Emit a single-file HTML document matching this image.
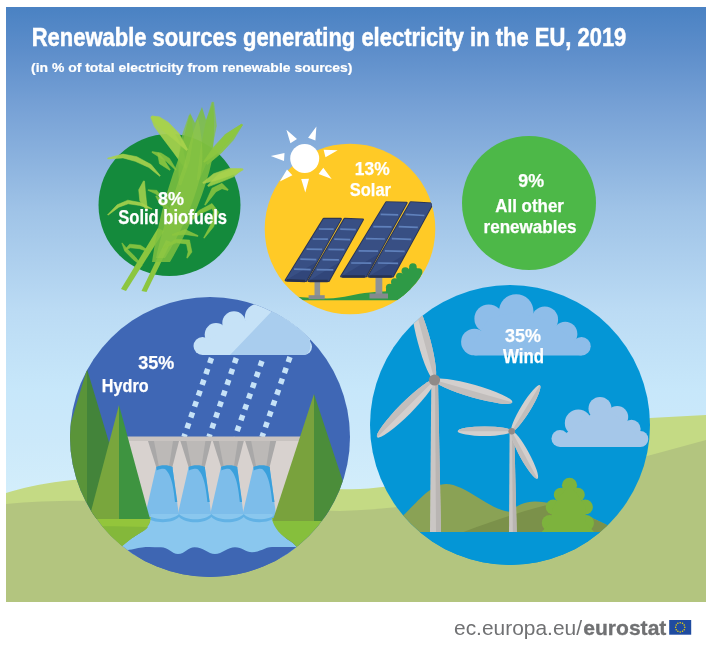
<!DOCTYPE html>
<html><head><meta charset="utf-8">
<style>
html,body{margin:0;padding:0;background:#fff;width:711px;height:645px;overflow:hidden}
svg{display:block;filter:blur(0.35px)}
text{font-family:"Liberation Sans",sans-serif;font-weight:bold;fill:#fff;stroke:#fff;stroke-width:0.25px}
</style></head>
<body>
<svg width="711" height="645" viewBox="0 0 711 645">
<defs>
  <linearGradient id="sky" x1="0" y1="7" x2="0" y2="602" gradientUnits="userSpaceOnUse">
    <stop offset="0" stop-color="#4a82c3"/>
    <stop offset="0.069" stop-color="#5c8dca"/>
    <stop offset="0.173" stop-color="#78a2d6"/>
    <stop offset="0.341" stop-color="#9fc3e7"/>
    <stop offset="0.509" stop-color="#bbdbf4"/>
    <stop offset="0.644" stop-color="#c7e7fa"/>
    <stop offset="0.73" stop-color="#cce9fa"/>
    <stop offset="0.82" stop-color="#d3eefb"/>
    <stop offset="1" stop-color="#d3eefb"/>
  </linearGradient>
  <clipPath id="cBio"><circle cx="169.5" cy="205" r="71"/></clipPath>
  <clipPath id="cSol"><circle cx="350" cy="229" r="85.3"/></clipPath>
  <clipPath id="cHyd"><circle cx="210" cy="437" r="140"/></clipPath>
  <clipPath id="cWin"><circle cx="510" cy="425" r="140"/></clipPath>
</defs>
<rect x="0" y="0" width="711" height="645" fill="#fff"/>
<rect x="6" y="7" width="700" height="595" fill="url(#sky)"/>
<!-- hills -->
<path d="M6,493 C40,482 90,476 140,477 C220,481 300,491 360,489 C450,485 560,430 650,418 L706,415 L706,602 L6,602 Z" fill="#c4da84"/>
<path d="M6,504 C100,494 250,510 340,511 C450,508 560,480 706,440 L706,602 L6,602 Z" fill="#b3c57f"/>

<!-- biofuels -->
<circle cx="169.5" cy="205" r="71" fill="#148a3c"/>
<g>
<path d="M186.9,167.6 L182.5,147.6 L172.2,129.1 L161.7,119.5 L152.2,115.9 L150.8,117.3 L154.3,126.5 L161.8,136.9 L173.5,152.4 L185.1,168.4 Z" fill="#a8d24c" fill-opacity="0.9" stroke="#a8d24c" stroke-opacity="0.9" stroke-width="0.6" stroke-linejoin="round"/>
<path d="M207.6,164.5 L221.4,152.9 L233.3,140.1 L242.1,125.5 L241.1,124.5 L226.7,133.9 L214.6,147.1 L206.4,163.5 Z" fill="#8cc63f" fill-opacity="0.9" stroke="#8cc63f" stroke-opacity="0.9" stroke-width="0.6" stroke-linejoin="round"/>
<path d="M208.4,186.6 L221.9,181.6 L233.5,176.8 L241.8,170.1 L241.4,168.9 L230.5,169.2 L218.1,174.4 L207.6,185.4 Z" fill="#a0cf48" fill-opacity="0.9" stroke="#a0cf48" stroke-opacity="0.9" stroke-width="0.6" stroke-linejoin="round"/>
<path d="M180.9,185.1 L189.4,160.9 L193.4,135.7 L190.9,115.5 L189.1,115.3 L182.6,134.3 L178.6,159.1 L179.1,184.9 Z" fill="#86c240" fill-opacity="0.7" stroke="#86c240" stroke-opacity="0.7" stroke-width="0.6" stroke-linejoin="round"/>
<path d="M198.9,180.2 L211.3,151.2 L216.4,125.8 L213.7,102.3 L211.9,102.1 L205.6,124.2 L200.7,148.8 L197.1,179.8 Z" fill="#86c240" fill-opacity="0.7" stroke="#86c240" stroke-opacity="0.7" stroke-width="0.6" stroke-linejoin="round"/>
<path d="M205.4,205.2 L216.0,191.8 L222.0,188.7 L227.8,190.4 L228.2,189.6 L222.0,183.3 L212.0,188.2 L204.6,204.8 Z" fill="#8cc63f" fill-opacity="0.85" stroke="#8cc63f" stroke-opacity="0.85" stroke-width="0.6" stroke-linejoin="round"/>
<path d="M170.2,209.7 L163.8,201.2 L156.3,195.8 L155.7,196.2 L160.2,204.8 L169.8,210.3 Z" fill="#8cc63f" fill-opacity="0.85" stroke="#8cc63f" stroke-opacity="0.85" stroke-width="0.6" stroke-linejoin="round"/>
<path d="M121,289 L158,228 L164,231 L126,291 Z" fill="#8cc63f"/>
<path d="M141.5,291 L166,240 L171,242 L146.5,292 Z" fill="#8cc63f"/>
<path d="M152,262 C156,235 163,200 178,160 C183,140 187,125 190,113 L195,123 L202,107 L206,120 L213,102 C215,120 214,140 212,160 C206,190 190,228 170,262 Z" fill="#7fbf40" fill-opacity="0.85"/>
<path d="M156,258 C161,235 170,205 184,165 C188,148 193,132 198,118 C203,140 204,160 200,178 C193,205 180,235 165,258 Z" fill="#98cc48" fill-opacity="0.45"/>
<path d="M187.6,149.5 L178.9,133.3 L168.2,122.2 L159.2,116.8 L152.0,116.1 L151.2,117.3 L154.8,123.2 L161.8,129.8 L173.1,138.7 L186.4,150.5 Z" fill="#a8d24c" fill-opacity="0.95" stroke="#a8d24c" stroke-opacity="0.95" stroke-width="0.6" stroke-linejoin="round"/>
<path d="M160.3,175.7 L151.1,164.5 L136.8,156.7 L123.0,154.1 L107.7,158.1 L107.9,158.9 L123.0,157.9 L135.2,161.3 L148.9,167.5 L159.7,176.3 Z" fill="#a8d24c" fill-opacity="0.9" stroke="#a8d24c" stroke-opacity="0.9" stroke-width="0.6" stroke-linejoin="round"/>
<path d="M170.3,169.7 L164.5,160.3 L158.4,152.8 L157.6,153.2 L159.5,163.7 L169.7,170.3 Z" fill="#8cc63f" fill-opacity="0.9" stroke="#8cc63f" stroke-opacity="0.9" stroke-width="0.6" stroke-linejoin="round"/>
<path d="M147.5,209.8 L146.2,199.2 L145.3,190.2 L144.5,181.1 L143.5,180.9 L138.7,189.8 L139.8,200.8 L146.5,210.2 Z" fill="#a8d24c" fill-opacity="0.85" stroke="#a8d24c" stroke-opacity="0.85" stroke-width="0.6" stroke-linejoin="round"/>
<path d="M152.1,208.8 L140.4,202.6 L127.8,200.2 L117.2,204.8 L107.6,214.8 L108.0,215.2 L118.8,207.2 L128.2,203.8 L139.6,205.4 L151.9,209.2 Z" fill="#a8d24c" fill-opacity="0.9" stroke="#a8d24c" stroke-opacity="0.9" stroke-width="0.6" stroke-linejoin="round"/>
<path d="M204.4,162.4 L218.7,152.6 L230.6,139.7 L242.7,125.0 L241.9,124.0 L225.4,134.3 L213.3,147.4 L203.6,161.6 Z" fill="#8cc63f" fill-opacity="0.9" stroke="#8cc63f" stroke-opacity="0.9" stroke-width="0.6" stroke-linejoin="round"/>
<path d="M203.3,183.5 L216.4,180.3 L230.9,175.5 L243.1,170.0 L242.9,168.8 L229.1,168.5 L213.6,173.7 L202.7,182.5 Z" fill="#a8d24c" fill-opacity="0.9" stroke="#a8d24c" stroke-opacity="0.9" stroke-width="0.6" stroke-linejoin="round"/>
<path d="M186.3,224.3 L201.0,213.5 L212.0,208.5 L213.5,212.0 L210.4,225.2 L203.7,237.8 L204.3,238.2 L213.6,226.8 L218.5,212.0 L212.0,203.5 L199.0,210.5 L185.7,223.7 Z" fill="#8cc63f" fill-opacity="0.9" stroke="#8cc63f" stroke-opacity="0.9" stroke-width="0.6" stroke-linejoin="round"/>
<path d="M163.2,248.3 L176.4,242.8 L186.5,243.9 L188.1,251.9 L186.7,257.8 L187.3,258.2 L191.9,252.1 L189.5,240.1 L175.6,239.2 L162.8,247.7 Z" fill="#8cc63f" fill-opacity="0.9" stroke="#8cc63f" stroke-opacity="0.9" stroke-width="0.6" stroke-linejoin="round"/>
<path d="M150.1,251.7 L140.5,245.3 L129.6,244.2 L124.8,249.8 L125.2,250.2 L130.4,247.8 L139.5,248.7 L149.9,252.3 Z" fill="#8cc63f" fill-opacity="0.9" stroke="#8cc63f" stroke-opacity="0.9" stroke-width="0.6" stroke-linejoin="round"/>
<path d="M142.2,265.8 L135.2,256.8 L127.3,249.0 L122.2,242.9 L121.8,243.1 L124.7,251.0 L132.8,259.2 L141.8,266.2 Z" fill="#8cc63f" fill-opacity="0.85" stroke="#8cc63f" stroke-opacity="0.85" stroke-width="0.6" stroke-linejoin="round"/>
<path d="M172.1,235.4 L184.9,234.5 L197.9,236.4 L198.1,235.6 L185.1,229.5 L171.9,234.6 Z" fill="#8cc63f" fill-opacity="0.85" stroke="#8cc63f" stroke-opacity="0.85" stroke-width="0.6" stroke-linejoin="round"/>
<path d="M176.3,169.8 L169.5,158.4 L161.0,153.0 L152.1,151.6 L151.9,152.4 L159.0,157.0 L166.5,161.6 L175.7,170.2 Z" fill="#8cc63f" fill-opacity="0.85" stroke="#8cc63f" stroke-opacity="0.85" stroke-width="0.6" stroke-linejoin="round"/>
<path d="M162.2,197.8 L156.9,190.4 L148.1,189.7 L147.9,190.3 L155.1,193.6 L161.8,198.2 Z" fill="#8cc63f" fill-opacity="0.85" stroke="#8cc63f" stroke-opacity="0.85" stroke-width="0.6" stroke-linejoin="round"/>
</g>
<text x="171" y="205.3" font-size="19" text-anchor="middle" textLength="26" lengthAdjust="spacingAndGlyphs">8%</text>
<text x="172.6" y="223.9" font-size="19.5" text-anchor="middle" textLength="108.8" lengthAdjust="spacingAndGlyphs">Solid biofuels</text>

<!-- solar -->
<circle cx="350" cy="229" r="85.3" fill="#ffca26"/>
<g fill="#fff">
  <circle cx="304.7" cy="158.4" r="14.5"/>
  <path d="M286.4,129.7 L297.0,139.0 L290.4,143.2 Z M316.4,126.5 L315.4,140.5 L308.1,137.8 Z M337.7,150.2 L325.5,157.2 L323.6,149.7 Z M331.7,179.1 L318.6,174.0 L323.3,167.8 Z M305.3,192.4 L301.2,179.0 L309.0,178.8 Z M279.8,181.6 L287.0,169.5 L292.4,175.2 Z M270.8,156.0 L284.5,153.1 L284.0,160.9 Z"/>
</g>
<g clip-path="url(#cSol)">
  <!-- ground -->
  <path d="M260,293.5 C280,294 300,298.5 327,298.5 C345,298 355,293.5 370,292.5 C385,291.5 400,290 440,288 L440,300.2 L260,300.2 Z" fill="#2f9a45"/>
  <!-- bush -->
  <g fill="#2e9a46">
    <circle cx="412.9" cy="267" r="3.8"/>
    <circle cx="418.6" cy="272" r="3.8"/>
    <circle cx="405.3" cy="271" r="3.8"/>
    <circle cx="399.8" cy="276.5" r="3.8"/>
    <circle cx="394.8" cy="282" r="3.8"/>
    <circle cx="389.7" cy="287.5" r="3.8"/>
    <path d="M386,289 L412.9,265 L421.8,272 C420,285 407,296 397,300 L386,300 Z"/>
  </g>
  <!-- posts -->
  <rect x="314.5" y="280" width="5.6" height="16" fill="#8e9397"/>
  <rect x="308.6" y="295.2" width="16.1" height="4" fill="#858a8e"/>
  <rect x="375.5" y="276" width="6.8" height="18.5" fill="#8e9397"/>
  <rect x="369.5" y="293.5" width="18.5" height="5" fill="#858a8e"/>
  <path d="M323.7,218.9 L340.8,218.9 L306,280.9 L285.7,280.3 Z" fill="#2f3d62" stroke="#2b3656" stroke-width="2.2" stroke-linejoin="round"/><path d="M323.7,218.9 L340.8,218.9 L306,280.9 L285.7,280.3 Z" fill="#31467a"/><path d="M323.7,218.9 L340.8,218.9 L316.4,262.3 L285.7,280.3 Z" fill="#384f84"/><line x1="318.9" y1="229.0" x2="333.7" y2="229.1" stroke="#5f80bb" stroke-width="1.7"/><line x1="312.7" y1="239.0" x2="327.9" y2="239.2" stroke="#5f80bb" stroke-width="1.7"/><line x1="306.5" y1="249.1" x2="322.2" y2="249.4" stroke="#5f80bb" stroke-width="1.7"/><line x1="300.3" y1="259.2" x2="316.4" y2="259.6" stroke="#5f80bb" stroke-width="1.7"/><line x1="294.1" y1="269.2" x2="310.7" y2="269.7" stroke="#5f80bb" stroke-width="1.7"/><line x1="286.7" y1="280.3" x2="305" y2="280.9" stroke="#263150" stroke-width="2.5"/>
  <path d="M344.6,218.9 L362.9,219.5 L328.7,280.9 L308.5,280.9 Z" fill="#2f3d62" stroke="#2b3656" stroke-width="2.2" stroke-linejoin="round"/><path d="M344.6,218.9 L362.9,219.5 L328.7,280.9 L308.5,280.9 Z" fill="#31467a"/><path d="M344.6,218.9 L362.9,219.5 L339.0,262.5 L308.5,280.9 Z" fill="#384f84"/><line x1="340.2" y1="229.1" x2="355.8" y2="229.6" stroke="#5f80bb" stroke-width="1.7"/><line x1="334.3" y1="239.2" x2="350.2" y2="239.6" stroke="#5f80bb" stroke-width="1.7"/><line x1="328.4" y1="249.4" x2="344.5" y2="249.7" stroke="#5f80bb" stroke-width="1.7"/><line x1="322.5" y1="259.6" x2="338.9" y2="259.8" stroke="#5f80bb" stroke-width="1.7"/><line x1="316.6" y1="269.7" x2="333.3" y2="269.8" stroke="#5f80bb" stroke-width="1.7"/><line x1="309.5" y1="280.9" x2="327.7" y2="280.9" stroke="#263150" stroke-width="2.5"/>
  <path d="M386.3,202.3 L406.6,202.8 L365.9,276.4 L341.2,276.4 Z" fill="#2f3d62" stroke="#2b3656" stroke-width="2.2" stroke-linejoin="round"/><path d="M386.3,202.3 L406.6,202.8 L365.9,276.4 L341.2,276.4 Z" fill="#31467a"/><path d="M386.3,202.3 L406.6,202.8 L378.1,254.3 L341.2,276.4 Z" fill="#384f84"/><line x1="380.6" y1="214.4" x2="398.2" y2="214.9" stroke="#5f80bb" stroke-width="1.7"/><line x1="373.3" y1="226.6" x2="391.5" y2="226.9" stroke="#5f80bb" stroke-width="1.7"/><line x1="365.9" y1="238.7" x2="384.8" y2="239.0" stroke="#5f80bb" stroke-width="1.7"/><line x1="358.6" y1="250.9" x2="378.1" y2="251.1" stroke="#5f80bb" stroke-width="1.7"/><line x1="351.2" y1="263.0" x2="371.3" y2="263.1" stroke="#5f80bb" stroke-width="1.7"/><line x1="342.2" y1="276.4" x2="364.9" y2="276.4" stroke="#263150" stroke-width="2.5"/>
  <path d="M410.7,202.3 L432.7,203.5 L392.8,276.4 L368.4,276.4 Z" fill="#2f3d62" stroke="#2b3656" stroke-width="2.2" stroke-linejoin="round"/><path d="M410.7,202.3 L432.7,203.5 L392.8,276.4 L368.4,276.4 Z" fill="#31467a"/><path d="M410.7,202.3 L432.7,203.5 L404.8,254.5 L368.4,276.4 Z" fill="#384f84"/><line x1="405.6" y1="214.4" x2="424.4" y2="215.5" stroke="#5f80bb" stroke-width="1.7"/><line x1="398.7" y1="226.6" x2="417.8" y2="227.4" stroke="#5f80bb" stroke-width="1.7"/><line x1="391.8" y1="238.7" x2="411.2" y2="239.4" stroke="#5f80bb" stroke-width="1.7"/><line x1="384.8" y1="250.9" x2="404.7" y2="251.3" stroke="#5f80bb" stroke-width="1.7"/><line x1="377.9" y1="263.0" x2="398.1" y2="263.3" stroke="#5f80bb" stroke-width="1.7"/><line x1="369.4" y1="276.4" x2="391.8" y2="276.4" stroke="#263150" stroke-width="2.5"/>
</g>
<text x="372.2" y="175.4" font-size="19" text-anchor="middle" textLength="34.8" lengthAdjust="spacingAndGlyphs">13%</text>
<text x="370.4" y="196" font-size="19" text-anchor="middle" textLength="41.2" lengthAdjust="spacingAndGlyphs">Solar</text>

<!-- other -->
<circle cx="529" cy="203" r="67" fill="#4db848"/>
<text x="531.2" y="187.2" font-size="19" text-anchor="middle" textLength="25.8" lengthAdjust="spacingAndGlyphs">9%</text>
<text x="529.6" y="212.2" font-size="19" text-anchor="middle" textLength="68.6" lengthAdjust="spacingAndGlyphs">All other</text>
<text x="530" y="232.8" font-size="18.5" text-anchor="middle" textLength="93" lengthAdjust="spacingAndGlyphs">renewables</text>

<!-- hydro -->
<circle cx="210" cy="437" r="140" fill="#3f67b5"/>
<g clip-path="url(#cHyd)">
  <!-- rain -->
  <g stroke="#c6e2f7" stroke-width="5.5" stroke-dasharray="5.5 6" fill="none">
    <line x1="211.5" y1="358" x2="184" y2="437"/>
    <line x1="236.3" y1="358" x2="209" y2="437"/>
    <line x1="262" y1="361" x2="235" y2="437"/>
    <line x1="290" y1="357" x2="262" y2="437"/>
  </g>
  <!-- dam body -->
  <rect x="120" y="437" width="185" height="85" fill="#d8d2cf"/>
  <rect x="120" y="436.5" width="185" height="4.5" fill="#c8c3c0"/>
  <path d="M148.0,441 L179.0,441 L172.4,467 L156.2,467 Z" fill="#a9a8a8"/>
  <path d="M154.0,441 L173.0,441 L169.0,467 L159.0,467 Z" fill="#bcb9b7"/>
  <path d="M180.4,441 L211.4,441 L204.8,467 L188.6,467 Z" fill="#a9a8a8"/>
  <path d="M186.4,441 L205.4,441 L201.4,467 L191.4,467 Z" fill="#bcb9b7"/>
  <path d="M212.8,441 L243.8,441 L237.20000000000002,467 L221.0,467 Z" fill="#a9a8a8"/>
  <path d="M218.8,441 L237.8,441 L233.8,467 L223.8,467 Z" fill="#bcb9b7"/>
  <path d="M245.2,441 L276.2,441 L269.59999999999997,467 L253.39999999999998,467 Z" fill="#a9a8a8"/>
  <path d="M251.2,441 L270.2,441 L266.2,467 L256.2,467 Z" fill="#bcb9b7"/>
  <path d="M156.2,467 L172.4,467 L179.0,516 L145.0,516 Z" fill="#7dbdea"/>
  <path d="M188.6,467 L204.8,467 L211.4,516 L177.4,516 Z" fill="#7dbdea"/>
  <path d="M221.0,467 L237.20000000000002,467 L243.8,516 L209.8,516 Z" fill="#7dbdea"/>
  <path d="M253.39999999999998,467 L269.59999999999997,467 L276.2,516 L242.2,516 Z" fill="#7dbdea"/>
  <path d="M160.0,467 C169.0,468 173.0,480 175.0,502 L177.3,502 L172.4,467 Z" fill="#3aa0dc"/>
  <path d="M192.4,467 C201.4,468 205.4,480 207.4,502 L209.7,502 L204.8,467 Z" fill="#3aa0dc"/>
  <path d="M224.8,467 C233.8,468 237.8,480 239.8,502 L242.1,502 L237.2,467 Z" fill="#3aa0dc"/>
  <path d="M257.2,467 C266.2,468 270.2,480 272.2,502 L274.5,502 L269.6,467 Z" fill="#3aa0dc"/>
  <path d="M156.2,467 C160.0,464.5 169.0,464.5 172.4,467 L172.0,470.5 C168.0,468 160.0,468 156.6,470.5 Z" fill="#3aa0dc"/>
  <path d="M188.6,467 C192.4,464.5 201.4,464.5 204.8,467 L204.4,470.5 C200.4,468 192.4,468 189.0,470.5 Z" fill="#3aa0dc"/>
  <path d="M221.0,467 C224.8,464.5 233.8,464.5 237.20000000000002,467 L236.8,470.5 C232.8,468 224.8,468 221.4,470.5 Z" fill="#3aa0dc"/>
  <path d="M253.39999999999998,467 C257.2,464.5 266.2,464.5 269.59999999999997,467 L269.2,470.5 C265.2,468 257.2,468 253.79999999999998,470.5 Z" fill="#3aa0dc"/>
  <!-- splash -->
  <path d="M112,556 C122,543 134,537 140,533 C148,528 151,523 150.6,514 L272.6,514 C273,526 282,536 290,541 C296,545 300,550 304,558 Z" fill="#8ac7ee"/>
  <path d="M118,513 L145,513 C153,521 172,521 179,514 C186,521 205,521 211.4,514 C218,521 237,521 243.8,514 C250,521 269,521 276.2,514 L300,513 L300,516.5 L276.2,516.5 C269,524 250,524 243.8,517 C237,524 218,524 211.4,517 C205,524 186,524 179,517 C172,524 153,524 145,516.5 L118,516.5 Z" fill="#62b2e5"/>
  <!-- bottom water -->
  <path d="M110,553 C122,551 128,550 134,549 C145,546 152,547.3 161,547.3 C168,547.3 172,554 178,554 C185,554 188,547.3 194.6,547.3 C203,547.3 208,554 215,554 C222,554 228,547.3 235,547.3 C242,547.3 246,552.3 252,552.3 C260,552.3 265,547 272,547 C280,547 286,547 292.5,547 L320,547 L320,600 L110,600 Z" fill="#3e66b3"/>
  <!-- grass -->
  <path d="M50,517 L150.6,517 C151,523 148,528 140,533 C134,537 125,542 112,556 L50,556 Z" fill="#93c53b"/>
  <path d="M50,528 C80,526 110,526 148,527 C146,530 143,531 140,533 C134,537 125,542 112,556 L50,556 Z" fill="#84b83a"/>
  <path d="M272,518 L360,518 L360,560 L304,560 C300,550 296,545 290,541 C282,536 273,528 272,518 Z" fill="#86bf3c"/>
  <!-- left back tree -->
  <path d="M87,369 L42,519 L87,519 Z" fill="#5a9439"/>
  <path d="M87,369 L132,519 L87,519 Z" fill="#43843a"/>
  <!-- left front tree -->
  <path d="M119,405 L89,519 L119,519 Z" fill="#79a63d"/>
  <path d="M119,405 L150,519 L119,519 Z" fill="#3e9440"/>
  <!-- right tree -->
  <path d="M314,394 L272.6,521 L314,521 Z" fill="#79a23d"/>
  <path d="M314,394 L356,521 L314,521 Z" fill="#4b8d3a"/>
</g>
<!-- cloud -->
<g fill="#c6e2f7" clip-path="url(#cHyd)">
  <circle cx="202.5" cy="346" r="9"/>
  <circle cx="216" cy="334.4" r="11.3"/>
  <circle cx="234" cy="323" r="11.7"/>
  <circle cx="258.8" cy="317.5" r="14"/>
  <circle cx="285" cy="318" r="15"/>
  <circle cx="304" cy="346.8" r="8"/>
  <path d="M202.5,355 L202.5,346 L216,334.4 L234,323 L258.8,317.5 L285,318 L320,330 L304,346.8 L304,355 Z"/>
</g>
<g clip-path="url(#cHyd)">
  <path d="M272,311 L230,355 L304,355 C312,355 313,338 305,334 L290,311 Z" fill="#a9cdee"/>
</g>
<text x="156.2" y="368.6" font-size="19" text-anchor="middle" textLength="36" lengthAdjust="spacingAndGlyphs">35%</text>
<text x="125.2" y="391.8" font-size="18.8" text-anchor="middle" textLength="46.7" lengthAdjust="spacingAndGlyphs">Hydro</text>

<!-- wind -->
<circle cx="510" cy="425" r="140" fill="#0496d6"/>
<g clip-path="url(#cWin)">
  <!-- cloud top -->
  <g fill="#8ebde9">
    <circle cx="474.4" cy="342" r="13.3"/>
    <circle cx="488.7" cy="318.7" r="14.3"/>
    <circle cx="516.2" cy="311.5" r="17.3"/>
    <circle cx="544.8" cy="319.7" r="13.3"/>
    <circle cx="565.2" cy="334" r="12.2"/>
    <circle cx="581.5" cy="346.2" r="9.2"/>
    <path d="M474.4,355.4 L474.4,342 L488.7,318.7 L516.2,311.5 L544.8,319.7 L565.2,334 L581.5,346.2 L581.5,355.4 Z"/>
  </g>
  <!-- right cloud -->
  <g fill="#a5c7e9">
    <circle cx="560" cy="438.5" r="8.5"/>
    <circle cx="578.3" cy="423" r="13.5"/>
    <circle cx="600" cy="408.5" r="11.5"/>
    <circle cx="617.2" cy="417" r="11"/>
    <circle cx="631.5" cy="429" r="9.2"/>
    <circle cx="640.3" cy="439" r="8"/>
    <path d="M560,447 L560,438.5 L578.3,423 L600,408.5 L617.2,417 L631.5,429 L640.3,439 L640.3,447 Z"/>
  </g>
  <!-- hills -->
  <path d="M395,532 L403,515.6 C415,505 430,484 446,484 C465,484 490,510 509,511.8 C518,505 525,501.6 535,501.6 C555,501.6 590,515 620,532 Z" fill="#8aa255"/>
  <path d="M463.5,532 C490,522 520,512 545,505.4 C570,508 600,520 620,532 Z" fill="#7b914a"/>
  <!-- bush -->
  <g fill="#7db33d">
    <circle cx="569.5" cy="485.3" r="7.6"/>
    <circle cx="560.8" cy="494.7" r="7"/>
    <circle cx="577.8" cy="494.7" r="7"/>
    <circle cx="553.3" cy="507" r="7.6"/>
    <circle cx="585.3" cy="507" r="7.6"/>
    <circle cx="549.8" cy="523" r="8"/>
    <circle cx="586" cy="523" r="8"/>
    <path d="M569.5,485.3 L577.8,494.7 L585.3,507 L586,523 L594,532 L541.6,532 L549.8,523 L553.3,507 L560.8,494.7 Z"/>
  </g>
  <!-- ground water -->
  <rect x="360" y="532" width="300" height="40" fill="#0496d6"/>
  <!-- big turbine -->
  <path d="M431.3,381 L438,381 L441,532 L430,532 Z" fill="#cac6c4"/>
  <path d="M435,381 L438,381 L441,532 L436,532 Z" fill="#b9b5b3"/>
  
  
  
  
  
  
  
  <g transform="translate(434.5,380) rotate(-105)"><ellipse cx="40.5" cy="0" rx="40.5" ry="6.4" fill="#d3cfcd"/><path d="M0,0 A40.5,6.4 0 0 0 81,0 Z" fill="#c2bebc"/></g><g transform="translate(434.5,380) rotate(16)"><ellipse cx="40.5" cy="0" rx="40.5" ry="6.4" fill="#d3cfcd"/><path d="M0,0 A40.5,6.4 0 0 0 81,0 Z" fill="#c2bebc"/></g><g transform="translate(434.5,380) rotate(135)"><ellipse cx="40.5" cy="0" rx="40.5" ry="6.4" fill="#d3cfcd"/><path d="M0,0 A40.5,6.4 0 0 0 81,0 Z" fill="#c2bebc"/></g>
  <circle cx="434.5" cy="380" r="5.6" fill="#8f8a88"/>
  <!-- small turbine -->
  <path d="M509.6,431 L514.2,431 L516.7,532 L509,532 Z" fill="#cac6c4"/>
  <path d="M512,431 L514.2,431 L516.7,532 L512.8,532 Z" fill="#b9b5b3"/>
  
  
  
  
  
  
  
  <g transform="translate(511.7,431.2) rotate(-58.5)"><ellipse cx="27.0" cy="0" rx="27.0" ry="4.8" fill="#d3cfcd"/><path d="M0,0 A27.0,4.8 0 0 0 54,0 Z" fill="#c2bebc"/></g><g transform="translate(511.7,431.2) rotate(180)"><ellipse cx="27.0" cy="0" rx="27.0" ry="4.8" fill="#d3cfcd"/><path d="M0,0 A27.0,4.8 0 0 0 54,0 Z" fill="#c2bebc"/></g><g transform="translate(511.7,431.2) rotate(61.5)"><ellipse cx="27.0" cy="0" rx="27.0" ry="4.8" fill="#d3cfcd"/><path d="M0,0 A27.0,4.8 0 0 0 54,0 Z" fill="#c2bebc"/></g>
  <circle cx="511.7" cy="431.2" r="3.3" fill="#8f8a88"/>
</g>
<text x="523" y="341.6" font-size="19" text-anchor="middle" textLength="36" lengthAdjust="spacingAndGlyphs">35%</text>
<text x="523.5" y="362.7" font-size="19.5" text-anchor="middle" textLength="41" lengthAdjust="spacingAndGlyphs">Wind</text>

<!-- title -->
<text x="31.75" y="45.65" font-size="25" style="stroke-width:0.5px" textLength="594.6" lengthAdjust="spacingAndGlyphs">Renewable sources generating electricity in the EU, 2019</text>
<text x="31" y="72" font-size="13.3" style="stroke-width:0.2px" textLength="321.5" lengthAdjust="spacingAndGlyphs">(in % of total electricity from renewable sources)</text>

<!-- footer -->
<text x="454" y="634.7" font-size="20.5" style="font-weight:normal;fill:#707173;stroke:none" textLength="128" lengthAdjust="spacingAndGlyphs">ec.europa.eu/</text>
<text x="583.2" y="634.7" font-size="20.5" style="fill:#707173;stroke:#707173;stroke-width:0.3px" textLength="83.2" lengthAdjust="spacingAndGlyphs">eurostat</text>
<rect x="669.2" y="620" width="22" height="14.7" fill="#1f4ba0"/>
<g fill="#f5d800" stroke="none"><circle cx="684.80" cy="627.35" r="0.75"/><circle cx="684.18" cy="629.65" r="0.75"/><circle cx="682.50" cy="631.33" r="0.75"/><circle cx="680.20" cy="631.95" r="0.75"/><circle cx="677.90" cy="631.33" r="0.75"/><circle cx="676.22" cy="629.65" r="0.75"/><circle cx="675.60" cy="627.35" r="0.75"/><circle cx="676.22" cy="625.05" r="0.75"/><circle cx="677.90" cy="623.37" r="0.75"/><circle cx="680.20" cy="622.75" r="0.75"/><circle cx="682.50" cy="623.37" r="0.75"/><circle cx="684.18" cy="625.05" r="0.75"/></g>
</svg>
</body></html>
